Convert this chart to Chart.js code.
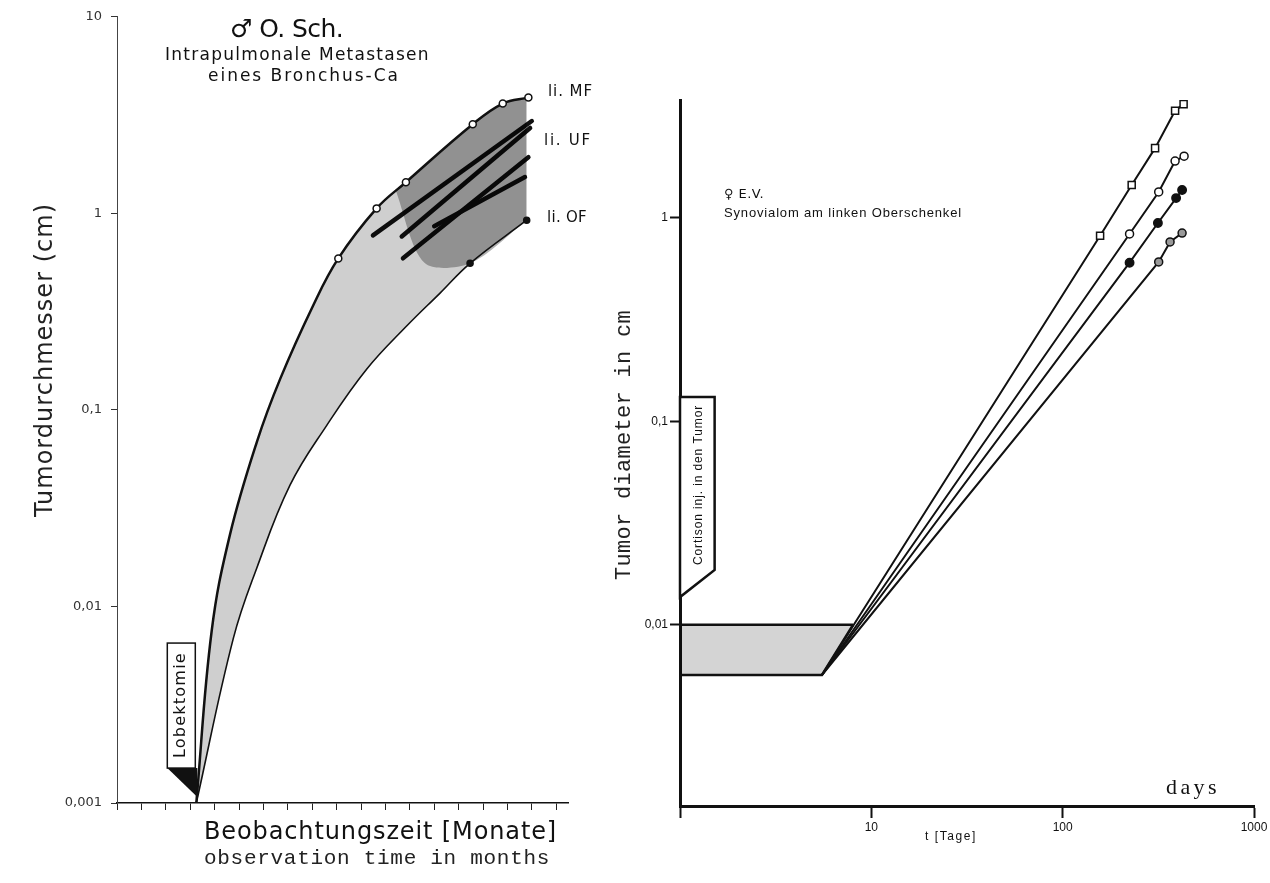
<!DOCTYPE html>
<html>
<head>
<meta charset="utf-8">
<script src="https://cdn.jsdelivr.net/npm/chart.js@4.4.1/dist/chart.umd.min.js"></script>
<style>
  html, body { margin: 0; padding: 0; background: #fff; }
  #wrap { position: relative; width: 1270px; height: 883px; overflow: hidden; }
  #leftChart { position: absolute; left: 0; top: 0; }
  #rightChart { position: absolute; left: 600px; top: 0; }
</style>
</head>
<body>
<div id="wrap">
  <canvas id="leftChart" width="600" height="883" style="width:600px;height:883px"></canvas>
  <canvas id="rightChart" width="670" height="883" style="width:670px;height:883px"></canvas>
</div>
<script>
// ---- left panel: O. Sch., lung metastases, months after lobectomy vs diameter (cm)
const lobectomyMonth = 3.25;
const upperMonths = [3.25, 3.88, 4.63, 5.73, 6.68, 8.03, 9.07, 10.64, 11.84, 14.58, 15.81, 16.86];
const upperDiam   = [0.001, 0.0075, 0.0232, 0.0686, 0.143, 0.338, 0.59, 1.06, 1.44, 2.84, 3.62, 3.88];
const upperMeasured = [0, 0, 0, 0, 0, 0, 1, 1, 1, 1, 1, 1];
const lowerMonths = [3.25, 4.77, 5.73, 7.09, 8.59, 10.23, 11.87, 13.24, 14.47, 16.79];
const lowerDiam   = [0.001, 0.0069, 0.0157, 0.0414, 0.0832, 0.161, 0.267, 0.393, 0.557, 0.923];
const lowerMeasured = [0, 0, 0, 0, 0, 0, 0, 0, 1, 1];
const denseMonths = [11.4, 12.6, 14.47, 16.79];
const denseDiam   = [1.33, 0.56, 0.557, 0.923];
const strandStartMonths = [10.49, 11.67, 11.72, 13.0];
const strandStartDiam   = [0.772, 0.763, 0.591, 0.86];
const strandEndMonths   = [17.0, 16.93, 16.86, 16.72];
const strandEndDiam     = [2.95, 2.72, 1.93, 1.53];
const diamTicksLeft = [0.001, 0.01, 0.1, 1, 10];

// ---- right panel: E.V., synovialoma, days vs diameter (cm)
const startDay = 5.52;
const startDiam = 0.00567;
const squareDays = [156.9, 229.5, 304.1, 386.9, 428.6];
const squareDiam = [0.817, 1.45, 2.20, 3.36, 3.62];
const circleDays = [223.7, 317.6, 386.9, 431.2];
const circleDiam = [0.833, 1.34, 1.90, 2.01];
const dotDays = [223.7, 314.6, 391.6, 420.9];
const dotDiam = [0.602, 0.943, 1.25, 1.37];
const ringDays = [317.6, 364.2, 420.9];
const ringDiam = [0.607, 0.761, 0.842];
const bandDays  = [1, 5.52, 8.02];
const bandUpper = [0.01, 0.01, 0.01];
const bandLower = [0.00567, 0.00567, 0.01];
const dayTicks = [1, 10, 100, 1000];
const diamTicksRight = [0.01, 0.1, 1];
const diamAxisMin = 0.001288;
const diamAxisMax = 3.793;

const ptsOf = (xs, ys) => xs.map((x, i) => ({ x: x, y: ys[i] }));
const comma = v => String(v).replace('.', ',');

// draws text stretched to a given width with letter spacing
function fitText(ctx, text, x, y, font, width, color) {
  ctx.save();
  ctx.font = font;
  ctx.fillStyle = color || '#111';
  ctx.textAlign = 'left';
  ctx.textBaseline = 'middle';
  if (width && 'letterSpacing' in ctx) {
    const w = ctx.measureText(text).width;
    ctx.letterSpacing = ((width - w) / text.length).toFixed(2) + 'px';
  }
  ctx.fillText(text, x, y);
  ctx.restore();
}
function fitTextUp(ctx, text, cx, bottom, font, width, color) {
  ctx.save();
  ctx.translate(cx, bottom);
  ctx.rotate(-Math.PI / 2);
  fitText(ctx, text, 0, 0, font, width, color);
  ctx.restore();
}

// ---------- left chart ----------
const leftDecor = {
  id: 'leftDecor',
  afterDatasetsDraw(chart) {
    const ctx = chart.ctx;
    const xs = chart.scales.x, ys = chart.scales.y;
    // Lobektomie flag
    const tipX = xs.getPixelForValue(lobectomyMonth);
    const tipY = ys.getPixelForValue(0.00115);
    const r = tipX - 1, l = r - 28, b = tipY - 23, t = b - 125;
    ctx.save();
    ctx.fillStyle = '#fff';
    ctx.strokeStyle = '#111';
    ctx.lineWidth = 1.5;
    ctx.fillRect(l, t, r - l, b - t);
    ctx.strokeRect(l, t, r - l, b - t);
    ctx.beginPath();
    ctx.moveTo(l, b);
    ctx.lineTo(r + 2, b);
    ctx.lineTo(tipX + 1, tipY + 6);
    ctx.closePath();
    ctx.fillStyle = '#111';
    ctx.fill();
    ctx.restore();
    fitTextUp(ctx, 'Lobektomie', (l + r) / 2, b - 10, '16px "DejaVu Sans"', 106);

    // titles and labels
    fitText(ctx, '\u2642 O. Sch.', 230, 30, '25px "DejaVu Sans"', 113);
    fitText(ctx, 'Intrapulmonale Metastasen', 165, 56, '17px "DejaVu Sans"', 265);
    fitText(ctx, 'eines Bronchus-Ca', 208, 77, '17px "DejaVu Sans"', 192);
    fitText(ctx, 'li. MF', 548, 92, '15px "DejaVu Sans"', 45);
    fitText(ctx, 'li. UF', 544, 141, '15px "DejaVu Sans"', 48);
    fitText(ctx, 'li. OF', 547, 218, '15px "DejaVu Sans"', 40);
    fitTextUp(ctx, 'Tumordurchmesser (cm)', 46, 517, '24px "DejaVu Sans"', 314, '#222');
    fitText(ctx, 'Beobachtungszeit [Monate]', 204, 833, '24px "DejaVu Sans"', 353);
    fitText(ctx, 'observation time in months', 204, 858, '21px "Liberation Mono"', 346, '#222');
  }
};

const leftDatasets = [
  {
    label: 'li. MF',
    data: ptsOf(upperMonths, upperDiam),
    borderColor: '#111', borderWidth: 2.5,
    tension: 0.4,
    pointRadius: upperMeasured.map(m => m ? 3.5 : 0),
    pointBackgroundColor: '#fff', pointBorderColor: '#111', pointBorderWidth: 1.5,
    fill: false
  },
  {
    label: 'li. OF',
    data: ptsOf(lowerMonths, lowerDiam),
    borderColor: '#111', borderWidth: 1.6,
    tension: 0.4,
    pointRadius: lowerMeasured.map(m => m ? 3 : 0),
    pointBackgroundColor: '#111', pointBorderColor: '#111',
    backgroundColor: 'rgba(0,0,0,0.19)',
    fill: '-1'
  },
  {
    label: 'dense',
    data: ptsOf(denseMonths, denseDiam),
    borderColor: 'rgba(0,0,0,0)', borderWidth: 0,
    tension: 0.3,
    pointRadius: 0,
    backgroundColor: 'rgba(0,0,0,0.3)',
    fill: 0
  }
];
strandStartMonths.forEach((m, i) => {
  leftDatasets.push({
    label: 'strand ' + (i + 1),
    data: [{ x: m, y: strandStartDiam[i] }, { x: strandEndMonths[i], y: strandEndDiam[i] }],
    borderColor: '#111', borderWidth: 4.5, borderCapStyle: 'round',
    pointRadius: 0, fill: false
  });
});

new Chart(document.getElementById('leftChart').getContext('2d'), {
  type: 'line',
  data: { datasets: leftDatasets },
  options: {
    responsive: false,
    animation: false,
    layout: { padding: { left: 57, right: 31.6, top: 12, bottom: 40 } },
    plugins: { legend: { display: false }, tooltip: { enabled: false } },
    scales: {
      x: {
        type: 'linear', min: 0, max: 18.5,
        afterFit: s => { s.height = 40; },
        ticks: { stepSize: 1, includeBounds: false, display: false },
        grid: { drawOnChartArea: false, tickLength: 7, tickColor: '#222', tickWidth: 1 },
        border: { color: '#111', width: 1.5 }
      },
      y: {
        type: 'logarithmic', min: 0.001, max: 10,
        afterBuildTicks: s => { s.ticks = diamTicksLeft.map(v => ({ value: v })); },
        afterFit: s => { s.width = 60; },
        ticks: { callback: v => comma(v), color: '#333', padding: 9, font: { family: 'DejaVu Sans', size: 13 } },
        grid: { drawOnChartArea: false, tickLength: 6, tickColor: '#333' },
        border: { color: '#444', width: 1 }
      }
    }
  },
  plugins: [leftDecor]
});

// ---------- right chart ----------
const rightDecor = {
  id: 'rightDecor',
  afterDatasetsDraw(chart) {
    const ctx = chart.ctx;
    const xs = chart.scales.x, ys = chart.scales.y;
    // Cortison injection flag on the y axis
    const l = xs.getPixelForValue(1), r = xs.getPixelForValue(1.517);
    const t = ys.getPixelForValue(0.1316);
    const br = ys.getPixelForValue(0.0186), bl = ys.getPixelForValue(0.01369);
    ctx.save();
    ctx.beginPath();
    ctx.moveTo(l, t);
    ctx.lineTo(r, t);
    ctx.lineTo(r, br);
    ctx.lineTo(l, bl);
    ctx.closePath();
    ctx.fillStyle = '#fff';
    ctx.fill();
    ctx.strokeStyle = '#111';
    ctx.lineWidth = 2.5;
    ctx.stroke();
    ctx.restore();
    fitTextUp(ctx, 'Cortison inj. in den Tumor', (l + r) / 2 + 1, br - 5, '12px "Liberation Sans"', 160);

    fitText(ctx, '\u2640 E.V.', 124, 195, '13px "DejaVu Sans"', 40);
    fitText(ctx, 'Synovialom am linken Oberschenkel', 124, 213, '13px "Liberation Sans"', 238);
    fitTextUp(ctx, 'Tumor diameter in cm', 24, 580, '22px "Liberation Mono"', 270, '#222');
    fitText(ctx, 'days', 566, 788, '22px "Liberation Serif"', 54);
    fitText(ctx, 't [Tage]', 325, 837, '12px "Liberation Sans"', 52);
  }
};

function growthLine(label, days, diam, style, radius, fillColor) {
  return {
    label: label,
    data: [{ x: startDay, y: startDiam }].concat(ptsOf(days, diam)),
    borderColor: '#111', borderWidth: 2,
    pointStyle: style,
    pointRadius: [0].concat(days.map(() => radius)),
    pointBackgroundColor: fillColor, pointBorderColor: '#111', pointBorderWidth: 1.5,
    fill: false
  };
}

new Chart(document.getElementById('rightChart').getContext('2d'), {
  type: 'line',
  data: {
    datasets: [
      {
        label: 'band top',
        data: ptsOf(bandDays, bandUpper),
        borderColor: '#111', borderWidth: 2.5, pointRadius: 0, fill: false
      },
      {
        label: 'band bottom',
        data: ptsOf(bandDays, bandLower),
        borderColor: '#111', borderWidth: 2.5, pointRadius: 0,
        backgroundColor: 'rgba(0,0,0,0.17)',
        fill: '-1'
      },
      growthLine('squares', squareDays, squareDiam, 'rect', 5, '#fff'),
      growthLine('circles', circleDays, circleDiam, 'circle', 4, '#fff'),
      growthLine('dots', dotDays, dotDiam, 'circle', 4.2, '#111'),
      growthLine('rings', ringDays, ringDiam, 'circle', 4, '#999')
    ]
  },
  options: {
    responsive: false,
    animation: false,
    layout: { padding: { left: 40, right: 16, top: 100, bottom: 37 } },
    plugins: { legend: { display: false }, tooltip: { enabled: false } },
    scales: {
      x: {
        type: 'logarithmic', min: 1, max: 1000,
        afterBuildTicks: s => { s.ticks = dayTicks.map(v => ({ value: v })); },
        afterFit: s => { s.height = 40; },
        ticks: { callback: v => v === 1 ? '' : String(v), color: '#111', padding: 2,
                 maxRotation: 0, autoSkip: false, font: { family: 'Liberation Sans', size: 12 } },
        grid: { drawOnChartArea: false, tickLength: 12, tickWidth: 2, tickColor: '#111' },
        border: { color: '#111', width: 3 }
      },
      y: {
        type: 'logarithmic', min: diamAxisMin, max: diamAxisMax,
        afterBuildTicks: s => { s.ticks = diamTicksRight.map(v => ({ value: v })); },
        afterFit: s => { s.width = 40; },
        ticks: { callback: v => comma(v), color: '#111', padding: 2, font: { family: 'Liberation Sans', size: 12 } },
        grid: { drawOnChartArea: false, tickLength: 10, tickWidth: 2, tickColor: '#111' },
        border: { color: '#111', width: 3 }
      }
    }
  },
  plugins: [rightDecor]
});
</script>
</body>
</html>
